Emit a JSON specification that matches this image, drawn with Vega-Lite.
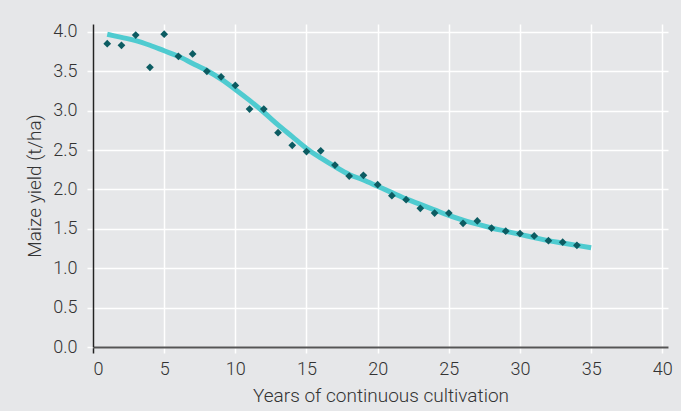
{
  "$schema": "https://vega.github.io/schema/vega-lite/v6.json",
  "width": 575,
  "height": 323,
  "autosize": {"type": "none"},
  "padding": {"left": 93, "top": 24, "right": 13, "bottom": 64},
  "background": "#e6e7e9",
  "config": {
    "view": {"stroke": null, "fill": "#e6e7e9"},
    "font": "Roboto",
    "axis": {
      "labelFont": "Roboto",
      "labelFontWeight": 300,
      "labelFontSize": 18,
      "labelColor": "#333333",
      "titleFont": "Roboto",
      "titleFontWeight": 300,
      "titleFontSize": 19,
      "titleColor": "#333333",
      "gridColor": "#ffffff",
      "gridWidth": 1.5,
      "gridOpacity": 1,
      "tickColor": "#ffffff",
      "tickWidth": 1.5,
      "tickSize": 6
    }
  },
  "datasets": {
    "obs": [
      {"year": 1, "yield": 3.85},
      {"year": 2, "yield": 3.83},
      {"year": 3, "yield": 3.96},
      {"year": 4, "yield": 3.55},
      {"year": 5, "yield": 3.97},
      {"year": 6, "yield": 3.69},
      {"year": 7, "yield": 3.72},
      {"year": 8, "yield": 3.50},
      {"year": 9, "yield": 3.43},
      {"year": 10, "yield": 3.32},
      {"year": 11, "yield": 3.02},
      {"year": 12, "yield": 3.02},
      {"year": 13, "yield": 2.72},
      {"year": 14, "yield": 2.56},
      {"year": 15, "yield": 2.48},
      {"year": 16, "yield": 2.49},
      {"year": 17, "yield": 2.31},
      {"year": 18, "yield": 2.17},
      {"year": 19, "yield": 2.18},
      {"year": 20, "yield": 2.06},
      {"year": 21, "yield": 1.92},
      {"year": 22, "yield": 1.87},
      {"year": 23, "yield": 1.76},
      {"year": 24, "yield": 1.70},
      {"year": 25, "yield": 1.70},
      {"year": 26, "yield": 1.57},
      {"year": 27, "yield": 1.60},
      {"year": 28, "yield": 1.51},
      {"year": 29, "yield": 1.47},
      {"year": 30, "yield": 1.44},
      {"year": 31, "yield": 1.41},
      {"year": 32, "yield": 1.35},
      {"year": 33, "yield": 1.33},
      {"year": 34, "yield": 1.29}
    ],
    "fit": [
      {"year": 1, "yield": 3.97},
      {"year": 2, "yield": 3.93},
      {"year": 3, "yield": 3.89},
      {"year": 4, "yield": 3.83},
      {"year": 5, "yield": 3.76},
      {"year": 6, "yield": 3.69},
      {"year": 7, "yield": 3.60},
      {"year": 8, "yield": 3.51},
      {"year": 9, "yield": 3.40},
      {"year": 10, "yield": 3.27},
      {"year": 11, "yield": 3.13},
      {"year": 12, "yield": 2.98},
      {"year": 13, "yield": 2.82},
      {"year": 14, "yield": 2.67},
      {"year": 15, "yield": 2.52},
      {"year": 16, "yield": 2.40},
      {"year": 17, "yield": 2.29},
      {"year": 18, "yield": 2.19},
      {"year": 19, "yield": 2.12},
      {"year": 20, "yield": 2.04},
      {"year": 21, "yield": 1.96},
      {"year": 22, "yield": 1.88},
      {"year": 23, "yield": 1.81},
      {"year": 24, "yield": 1.74},
      {"year": 25, "yield": 1.67},
      {"year": 26, "yield": 1.61},
      {"year": 27, "yield": 1.56},
      {"year": 28, "yield": 1.51},
      {"year": 29, "yield": 1.47},
      {"year": 30, "yield": 1.43},
      {"year": 31, "yield": 1.39},
      {"year": 32, "yield": 1.35},
      {"year": 33, "yield": 1.32},
      {"year": 34, "yield": 1.29},
      {"year": 35, "yield": 1.26}
    ]
  },
  "layer": [
    {
      "data": {"name": "fit"},
      "mark": {"type": "line", "color": "#4fcbd0", "strokeWidth": 5, "interpolate": "monotone"},
      "encoding": {
        "x": {
          "field": "year",
          "type": "quantitative",
          "scale": {"domain": [0, 40.4], "nice": false},
          "axis": {
            "title": "Years of continuous cultivation",
            "values": [0, 5, 10, 15, 20, 25, 30, 35, 40],
            "format": "d",
            "labelPadding": 7,
            "titlePadding": 8,
            "domainColor": "#555555",
            "domainWidth": 2,
            "tickColor": {"condition": {"test": "datum.value === 0", "value": "#222222"}, "value": "#ffffff"}
          }
        },
        "y": {
          "field": "yield",
          "type": "quantitative",
          "scale": {"domain": [0, 4.1], "nice": false},
          "axis": {
            "title": "Maize yield (t/ha)",
            "values": [0, 0.5, 1, 1.5, 2, 2.5, 3, 3.5, 4],
            "format": ".1f",
            "labelPadding": 10,
            "titlePadding": 8,
            "domainColor": "#222222",
            "domainWidth": 1.5
          }
        }
      }
    },
    {
      "data": {"name": "obs"},
      "mark": {"type": "point", "shape": "diamond", "filled": true, "color": "#0c5c62", "size": 60, "opacity": 1},
      "encoding": {
        "x": {"field": "year", "type": "quantitative"},
        "y": {"field": "yield", "type": "quantitative"}
      }
    }
  ]
}
